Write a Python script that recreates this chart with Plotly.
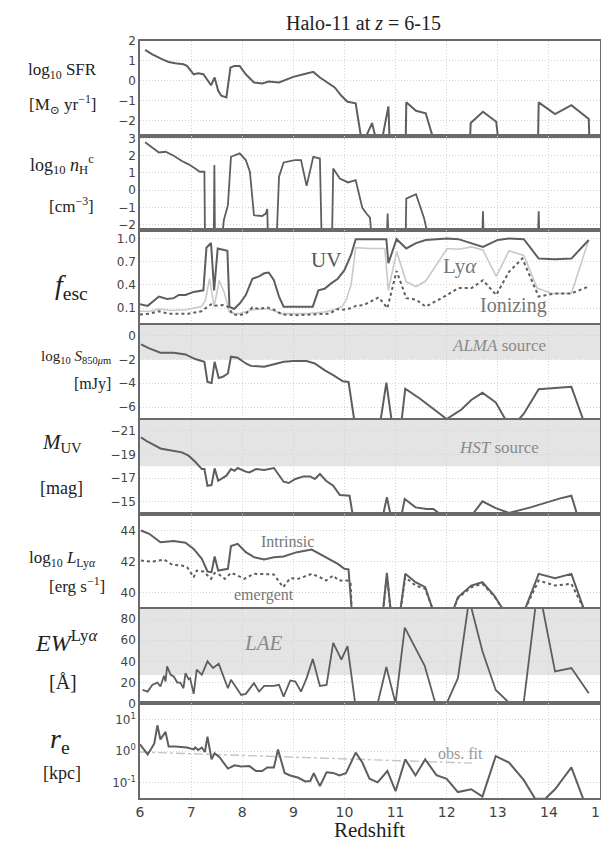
import plotly.graph_objects as go
from plotly.subplots import make_subplots

# ---------------- data ----------------
X_RANGE = [6, 15]
X_TICKS = list(range(6, 16))

# Panel 1: log10 SFR [Msun/yr]
sfr_z = [6.1, 6.24, 6.44, 6.56, 6.69, 6.85, 6.92, 7.05, 7.14, 7.24, 7.39, 7.46, 7.53, 7.59, 7.69, 7.77, 7.85,
         7.95, 8.07, 8.23, 8.39, 8.52, 8.72, 9.0, 9.2, 9.39, 9.52, 9.71, 9.81, 9.94, 10.06, 10.22, 10.32, 10.43,
         10.54, 10.60, 10.75, 10.86, 10.88, 11.2, 11.21, 11.40, 11.59, 11.72, 12.46, 12.47, 12.71, 12.97, 13.0,
         13.79, 13.80, 14.12, 14.44, 14.78, 14.79]
sfr = [1.55, 1.33, 1.08, 0.95, 0.88, 0.83, 0.75, 0.33, 0.38, 0.33, -0.22, 0.17, -0.5, -0.75, -0.83, 0.67, 0.75,
       0.75, 0.33, -0.08, -0.13, -0.03, -0.08, 0.2, 0.33, 0.45, 0.17, -0.17, -0.33, -0.75, -1.05, -1.13, -2.75,
       -2.75, -2.12, -2.75, -2.75, -1.28, -2.75, -2.75, -1.08, -1.5, -1.63, -2.75, -2.75, -2.12, -1.55, -2.05,
       -2.75, -2.75, -1.08, -1.67, -1.22, -1.92, -2.75]
sfr_ticks = [2, 1, 0, -1, -2]

# Panel 2: log10 n_H^c [cm^-3]
nh_z = [6.1, 6.24, 6.37, 6.5, 6.66, 6.82, 6.95, 7.08, 7.17, 7.26, 7.27, 7.445, 7.455, 7.465, 7.62, 7.64, 7.72,
        7.78, 7.95, 8.07, 8.15, 8.23, 8.39, 8.46, 8.49, 8.5, 8.68, 8.72, 8.81, 9.03, 9.15, 9.26, 9.39, 9.52, 9.55,
        9.76, 9.78, 9.91, 10.07, 10.22, 10.35, 10.43, 10.5, 10.52, 10.835, 10.845, 10.855, 11.2, 11.21, 11.40,
        11.56, 11.61, 12.70, 12.71, 12.72, 13.79, 13.80, 13.81, 15.0]
nh = [2.78, 2.47, 2.19, 2.23, 2.0, 1.69, 1.5, 1.26, 1.07, 1.07, -2.33, -2.33, 1.46, -2.33, -2.33, -1.75, -0.87,
      1.94, 2.14, 1.75, 1.07, -1.46, -1.5, -1.36, -1.1, -2.33, -2.33, 0.78, 1.61, 1.75, 1.75, 0.25, 1.94, 1.84,
      -2.33, -2.33, 1.26, 0.68, 0.45, 0.58, -1.03, -1.36, -1.6, -2.33, -2.33, -1.36, -2.33, -2.33, -0.49, -0.23,
      -1.65, -2.33, -2.33, -1.22, -2.33, -2.33, -1.22, -2.33, -2.33]
nh_ticks = [3, 2, 1, 0, -1, -2]

# Panel 3: escape fractions
uv_z = [6.0, 6.15, 6.37, 6.53, 6.66, 6.76, 6.89, 7.05, 7.24, 7.30, 7.39, 7.45, 7.52, 7.61, 7.71, 7.75, 7.84, 7.95,
        8.07, 8.2, 8.33, 8.43, 8.52, 8.62, 8.72, 8.81, 9.07, 9.38, 9.49, 9.61, 9.74, 9.87, 10.0, 10.13, 10.22,
        10.5, 10.82, 10.86, 11.02, 11.21, 11.40, 11.59, 12.01, 12.23, 12.71, 13.0, 13.22, 13.51, 13.80, 14.12,
        14.44, 14.78]
f_uv = [0.15, 0.13, 0.25, 0.22, 0.23, 0.27, 0.27, 0.31, 0.33, 0.88, 0.94, 0.33, 0.87, 0.86, 0.84, 0.12, 0.09, 0.16,
        0.27, 0.48, 0.51, 0.55, 0.56, 0.46, 0.25, 0.12, 0.12, 0.12, 0.33, 0.35, 0.42, 0.48, 0.59, 0.79, 0.99,
        0.99, 0.99, 0.68, 0.99, 0.87, 0.94, 0.98, 1.0, 0.99, 0.89, 0.98, 1.0, 0.99, 0.74, 0.73, 0.74, 0.98]
lya_z = [6.0, 6.2, 6.37, 6.6, 6.9, 7.05, 7.2, 7.28, 7.36, 7.45, 7.55, 7.65, 7.75, 7.85, 7.95, 8.1, 8.2, 8.35, 8.5,
         8.65, 8.75, 9.0, 9.3, 9.6, 9.8, 9.95, 10.03, 10.13, 10.22, 10.5, 10.79, 10.86, 11.02, 11.21, 11.40, 11.59,
         12.01, 12.23, 12.49, 12.71, 12.97, 13.22, 13.51, 13.77, 14.06, 14.44, 14.78]
f_lya = [0.06, 0.06, 0.09, 0.07, 0.08, 0.1, 0.12, 0.2, 0.48, 0.12, 0.46, 0.3, 0.05, 0.03, 0.03, 0.06, 0.08, 0.09,
         0.09, 0.06, 0.03, 0.03, 0.03, 0.05, 0.08, 0.12, 0.2, 0.4, 0.88, 0.87, 0.87, 0.33, 0.83, 0.44, 0.38, 0.45,
         0.87, 0.86, 0.89, 0.85, 0.51, 0.84, 0.78, 0.36, 0.29, 0.29, 0.98]
ion_z = [6.0, 6.18, 6.37, 6.56, 6.95, 7.2, 7.39, 7.45, 7.62, 7.72, 7.82, 7.95, 8.07, 8.2, 8.33, 8.49, 8.62, 8.78,
         9.07, 9.39, 9.71, 9.87, 9.97, 10.13, 10.22, 10.38, 10.67, 10.77, 10.84, 11.02, 11.21, 11.40, 11.59, 12.01,
         12.23, 12.49, 12.71, 12.97, 13.22, 13.48, 13.80, 14.12, 14.44, 14.78]
f_ion = [0.02, 0.03, 0.06, 0.03, 0.03, 0.06, 0.15, 0.13, 0.14, 0.12, 0.02, 0.01, 0.03, 0.11, 0.09, 0.11, 0.08, 0.02,
         0.01, 0.02, 0.03, 0.09, 0.08, 0.1, 0.13, 0.14, 0.24, 0.16, 0.1, 0.58, 0.23, 0.21, 0.12, 0.27, 0.36, 0.36,
         0.46, 0.27, 0.57, 0.74, 0.25, 0.29, 0.29, 0.38]
fesc_ticks = [1.0, 0.7, 0.4, 0.1]
fesc_ticktext = ["1.0", "0.7", "0.4", "0.1"]

# Panel 4: log10 S_850um [mJy]
alma_z = [6.02, 6.18, 6.40, 6.66, 6.89, 7.08, 7.26, 7.32, 7.40, 7.46, 7.54, 7.62, 7.72, 7.78, 7.91, 8.07, 8.17,
          8.43, 8.68, 8.81, 9.0, 9.26, 9.42, 9.61, 9.78, 9.97, 10.08, 10.19, 10.71, 10.82, 10.92, 11.12, 11.19,
          11.48, 12.0, 12.29, 12.48, 12.70, 12.96, 13.15, 13.41, 13.51, 13.80, 14.12, 14.44, 14.67]
s850 = [-0.73, -1.07, -1.44, -1.44, -1.58, -1.97, -2.2, -3.89, -3.97, -2.2, -3.55, -3.46, -3.18, -1.77, -1.86,
        -2.34, -2.54, -2.62, -2.34, -2.2, -2.14, -2.14, -2.34, -2.9, -3.32, -3.83, -3.89, -7.04, -7.04, -3.94,
        -7.04, -7.04, -4.45, -5.3, -7.0, -6.2, -5.4, -4.8, -5.6, -7.04, -7.04, -6.56, -4.5, -4.39, -4.3, -7.04]
alma_ticks = [0, -2, -4, -6]
alma_limit = -2

# Panel 5: M_UV [mag]
muv_z = [6.02, 6.15, 6.28, 6.40, 6.53, 6.69, 6.82, 6.95, 7.08, 7.21, 7.26, 7.32, 7.40, 7.46, 7.53, 7.69, 7.78,
         7.85, 7.91, 8.07, 8.14, 8.27, 8.43, 8.62, 8.81, 8.91, 9.04, 9.2, 9.33, 9.42, 9.52, 9.64, 9.78, 9.91,
         10.02, 10.1, 10.16, 10.76, 10.83, 10.9, 11.12, 11.18, 11.39, 11.61, 11.74, 11.87, 12.51, 12.70, 12.96,
         13.22, 13.64, 14.02, 14.22, 14.44, 14.55]
muv = [-20.44, -20.07, -19.79, -19.5, -19.39, -19.3, -19.17, -18.89, -18.38, -17.76, -17.76, -16.35, -16.41,
       -17.82, -16.77, -17.2, -17.76, -17.62, -17.85, -17.54, -17.48, -17.76, -17.68, -17.85, -16.69, -16.58,
       -16.92, -17.14, -17.14, -16.92, -17.34, -16.77, -16.35, -15.56, -15.5, -15.5, -13.95, -13.95, -15.37,
       -13.95, -13.95, -15.23, -14.52, -14.38, -14.38, -13.95, -13.95, -15.03, -14.46, -14.04, -14.52, -15.03,
       -15.28, -15.5, -13.95]
muv_ticks = [-21, -19, -17, -15]
hst_limit = -18

# Panel 6: log10 L_Lya [erg/s]
lint_z = [6.02, 6.18, 6.40, 6.66, 6.89, 7.05, 7.21, 7.32, 7.40, 7.46, 7.53, 7.72, 7.78, 7.91, 8.07, 8.23, 8.43,
          8.62, 8.81, 9.07, 9.36, 9.52, 9.71, 9.87, 10.0, 10.08, 10.14, 10.76, 10.83, 10.9, 11.1, 11.19, 11.39,
          11.58, 11.72, 12.14, 12.22, 12.48, 12.70, 12.93, 13.09, 13.54, 13.80, 14.12, 14.44, 14.68]
l_int = [44.0, 43.79, 43.25, 43.32, 43.21, 42.82, 42.18, 41.37, 41.33, 42.33, 41.43, 41.54, 43.0, 43.14, 42.61,
         42.29, 42.14, 42.29, 42.33, 42.61, 42.78, 42.5, 42.18, 41.86, 41.54, 41.5, 39.0, 39.0, 41.28, 39.0, 39.0,
         41.22, 40.68, 40.36, 39.0, 39.0, 39.72, 40.47, 40.68, 39.83, 39.0, 39.0, 41.22, 40.94, 41.22, 39.0]
lemg_z = [6.02, 6.24, 6.47, 6.63, 6.82, 6.92, 7.05, 7.11, 7.24, 7.39, 7.46, 7.56, 7.66, 7.78, 7.91, 8.04, 8.23,
          8.43, 8.62, 8.8, 8.94, 9.1, 9.36, 9.52, 9.64, 9.78, 9.89, 10.06, 10.12, 10.14, 10.76, 10.83, 10.9, 11.1,
          11.19, 11.39, 11.58, 11.72, 12.14, 12.22, 12.48, 12.70, 12.93, 13.09, 13.54, 13.80, 14.12, 14.44, 14.68]
l_emg = [42.07, 42.0, 42.14, 41.8, 41.75, 41.65, 41.0, 41.43, 41.37, 40.9, 41.28, 41.15, 40.9, 41.28, 41.11, 40.9,
         41.22, 41.22, 41.18, 40.36, 40.94, 40.9, 41.22, 41.0, 40.79, 41.11, 40.79, 40.79, 40.6, 39.0, 39.0, 41.1,
         39.0, 39.0, 41.0, 40.47, 40.26, 39.0, 39.0, 39.66, 40.36, 40.58, 39.79, 39.0, 39.0, 40.79, 40.47, 40.58,
         39.0]
l_ticks = [44, 42, 40]

# Panel 7: EW Lya [A]
ew_z = [6.05, 6.15, 6.24, 6.34, 6.40, 6.47, 6.5, 6.53, 6.6, 6.66, 6.73, 6.79, 6.85, 6.89, 6.95, 6.98, 7.05, 7.11,
        7.21, 7.32, 7.43, 7.54, 7.72, 7.78, 7.98, 8.07, 8.23, 8.33, 8.43, 8.62, 8.72, 8.81, 8.94, 9.04, 9.15, 9.26,
        9.38, 9.52, 9.65, 9.78, 9.94, 10.06, 10.21, 10.65, 10.82, 11.0, 11.18, 11.57, 11.78, 12.0, 12.22, 12.44,
        12.70, 12.96, 13.22, 13.51, 13.79, 14.12, 14.44, 14.78]
ew = [12.8, 11.2, 17.6, 19.8, 16, 26.2, 20.8, 35.2, 27.2, 25.6, 19.8, 19.8, 14.4, 28.8, 23.0, 24, 9, 32, 27.2, 40,
      33.6, 37.8, 14.4, 22.4, 8, 9, 19.2, 11.2, 16.6, 16.6, 17.6, 6.4, 21.8, 20.8, 11.2, 24, 42.2, 16.6, 17.6,
      57.6, 41.6, 54.4, 0, 0, 34.6, 0, 72, 35.8, 0, 0, 24, 99, 49.6, 12.8, 0.6, 1.6, 113, 30.4, 33.6, 9.6]
ew_ticks = [80, 60, 40, 20, 0]
lae_limit = 27

# Panel 8: effective radius r_e [kpc]
re_z = [6.0, 6.05, 6.15, 6.21, 6.28, 6.34, 6.40, 6.5, 6.56, 6.69, 6.82, 6.92, 7.05, 7.08, 7.14, 7.21, 7.27, 7.32,
        7.40, 7.46, 7.56, 7.72, 7.85, 7.98, 8.14, 8.27, 8.39, 8.49, 8.62, 8.7, 8.83, 8.94, 9.1, 9.23, 9.33, 9.4,
        9.52, 9.65, 9.78, 9.9, 10.03, 10.22, 10.35, 10.49, 10.65, 10.84, 11.0, 11.19, 11.39, 11.58, 11.8, 12.0,
        12.22, 12.48, 12.70, 12.96, 13.22, 13.51, 13.73, 13.93, 14.12, 14.44, 14.67]
r_e = [1.62, 1.29, 0.78, 1.12, 1.74, 6.6, 2.34, 4.07, 1.38, 1.38, 1.29, 1.29, 1.12, 1.29, 1.07, 1.29, 0.93, 2.88,
       0.54, 0.85, 0.62, 0.275, 0.35, 0.32, 0.33, 0.23, 0.23, 0.30, 0.30, 1.12, 0.20, 0.166, 0.14, 0.107, 0.11,
       0.195, 0.076, 0.21, 0.20, 0.166, 0.195, 0.89, 0.43, 0.13, 0.10, 0.23, 0.052, 0.54, 0.166, 0.54, 0.17, 0.13,
       0.049, 0.06, 0.035, 0.69, 0.43, 0.117, 0.03, 0.03, 0.06, 0.30, 0.03]
obs_fit_z = [6.0, 12.5]
obs_fit_re = [0.93, 0.41]
re_ticks = [10, 1, 0.1]
re_ticktext = ["10<sup>1</sup>", "10<sup>0</sup>", "10<sup>-1</sup>"]

# axis ranges
Y_RANGES = {
    1: [-2.75, 2.0],
    2: [-2.33, 3.17],
    3: [-0.115, 1.105],
    4: [-7.04, 0.9],
    5: [-13.95, -21.95],
    6: [38.98, 45.05],
    7: [0, 90],
    8: [-1.5, 1.52],
}

# ---------------- styling ----------------
W, H = 609, 845
ML, MR, MT, MB = 132, 8, 33, 55
PW, PH = W - ML - MR, H - MT - MB
DARK = "#5e5e5e"
LIGHT = "#c9c9c9"
SHADE = "#e4e4e4"
GRID = "#d4d4d4"
SERIF = "Liberation Serif, DejaVu Serif, serif"
SANS = "DejaVu Sans, sans-serif"

for a, b in [(sfr_z, sfr), (nh_z, nh), (uv_z, f_uv), (lya_z, f_lya), (ion_z, f_ion), (alma_z, s850),
             (muv_z, muv), (lint_z, l_int), (lemg_z, l_emg), (ew_z, ew), (re_z, r_e)]:
    assert len(a) == len(b), (len(a), len(b))

fig = make_subplots(rows=8, cols=1, shared_xaxes=True, vertical_spacing=0)


def line(x, y, row, color=DARK, width=2.0, dash="solid"):
    fig.add_trace(go.Scatter(x=x, y=y, mode="lines", line=dict(color=color, width=width, dash=dash),
                             showlegend=False, hoverinfo="skip"), row=row, col=1)


line(sfr_z, sfr, 1)
line(nh_z, nh, 2, width=1.8)
line(lya_z, f_lya, 3, color=LIGHT, width=1.6)
line(ion_z, f_ion, 3, dash="dot", width=2.0)
line(uv_z, f_uv, 3)
line(alma_z, s850, 4)
line(muv_z, muv, 5)
line(lemg_z, l_emg, 6, dash="dot", width=2.0)
line(lint_z, l_int, 6)
line(ew_z, ew, 7, width=1.8)
line(obs_fit_z, obs_fit_re, 8, color="#c4c4c4", width=1.4, dash="dashdot")
line(re_z, r_e, 8)

# shaded detection regions
fig.add_shape(type="rect", xref="x4", yref="y4", x0=X_RANGE[0], x1=X_RANGE[1], y0=alma_limit,
              y1=Y_RANGES[4][1], fillcolor=SHADE, line_width=0, layer="below")
fig.add_shape(type="rect", xref="x5", yref="y5", x0=X_RANGE[0], x1=X_RANGE[1], y0=hst_limit,
              y1=Y_RANGES[5][1], fillcolor=SHADE, line_width=0, layer="below")
fig.add_shape(type="rect", xref="x7", yref="y7", x0=X_RANGE[0], x1=X_RANGE[1], y0=lae_limit,
              y1=Y_RANGES[7][1], fillcolor=SHADE, line_width=0, layer="below")

axis_common = dict(showline=True, mirror=True, linecolor="#6a6a6a", linewidth=1.5, showgrid=True,
                   gridcolor=GRID, griddash="1px,2px", gridwidth=1, zeroline=False, ticks="",
                   tickfont=dict(family=SANS, size=12, color="#444444"))

for r in range(1, 9):
    fig.update_xaxes(range=X_RANGE, tickvals=X_TICKS, row=r, col=1, **axis_common)
fig.update_xaxes(tickfont=dict(family=SANS, size=14, color="#444444"), row=8, col=1)

ytick_sets = {1: (sfr_ticks, None), 2: (nh_ticks, None), 3: (fesc_ticks, fesc_ticktext), 4: (alma_ticks, None),
              5: (muv_ticks, None), 6: (l_ticks, None), 7: (ew_ticks, None)}
for r, (tv, tt) in ytick_sets.items():
    kw = dict(range=Y_RANGES[r], tickvals=tv)
    if tt:
        kw["ticktext"] = tt
    fig.update_yaxes(row=r, col=1, **kw, **axis_common)
fig.update_yaxes(row=8, col=1, type="log", range=Y_RANGES[8], tickvals=re_ticks, ticktext=re_ticktext,
                 **axis_common)


def px(x, y):
    return (x - ML) / PW, 1 - (y - MT) / PH


annots = []


def txt(text, x, y, size, color="#222222", xanchor="center", family=SERIF):
    ax, ay = px(x, y)
    annots.append(dict(text=text, x=ax, y=ay, xref="paper", yref="paper", showarrow=False, xanchor=xanchor,
                       yanchor="middle", font=dict(family=family, size=size, color=color)))


# title and axis labels
txt("Halo-11 at <i>z</i> = 6-15", 360, 15, 20)
txt("Redshift", 366, 822, 21)
txt("log<sub>10</sub> SFR", 53, 63, 17)
txt("[M<sub>⊙</sub> yr<sup>−1</sup>]", 53, 96, 17)
txt("log<sub>10</sub> <i>n</i><sub>H</sub><sup>c</sup>", 52, 157, 18)
txt("[cm<sup>−3</sup>]", 62, 197, 17)
txt("<i>f</i><sub>esc</sub>", 62, 278, 28)
txt("log<sub>10</sub> <i>S</i><sub>850<i>μ</i>m</sub>", 104, 349, 15, xanchor="right")
txt("[mJy]", 104, 376, 16, xanchor="right")
txt("<i>M</i><sub>UV</sub>", 52, 435, 21)
txt("[mag]", 52, 480, 18)
txt("log<sub>10</sub> <i>L</i><sub>Ly<i>α</i></sub>", 53, 551, 17)
txt("[erg s<sup>−1</sup>]", 98, 577, 17, xanchor="right")
txt("<i>EW</i><sup>Ly<i>α</i></sup>", 57, 633, 24)
txt("[Å]", 53, 674, 20)
txt("<i>r</i><sub>e</sub>", 50, 732, 28)
txt("[kpc]", 52, 765, 18)

# in-panel labels
txt("UV", 322, 252, 21, color="#555555")
txt("Ly<i>α</i>", 458, 258, 21, color="#777777")
txt("Ionizing", 513, 298, 20, color="#777777")
txt("<i>ALMA</i> source", 498, 337, 17, color="#8a8a8a")
txt("<i>HST</i> source", 498, 439, 17, color="#8a8a8a")
txt("Intrinsic", 282, 533, 16, color="#777777")
txt("emergent", 258, 587, 16, color="#777777")
txt("<i>LAE</i>", 258, 635, 21, color="#8a8a8a")
txt("obs. fit", 459, 745, 16, color="#999999")

fig.update_layout(width=W, height=H, margin=dict(l=ML, r=MR, t=MT, b=MB), plot_bgcolor="white",
                  paper_bgcolor="white", annotations=annots, showlegend=False)

fig.write_html("out.html", config={"displayModeBar": False})
